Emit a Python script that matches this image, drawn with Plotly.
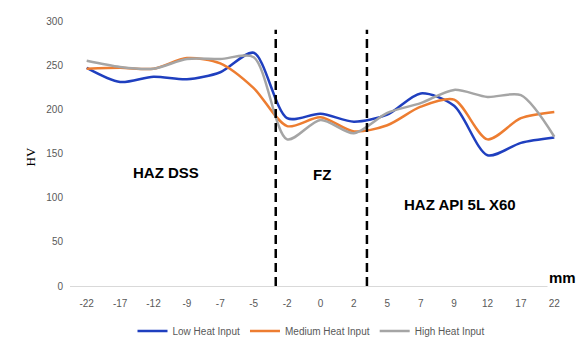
import plotly.graph_objects as go

categories = ["-22", "-17", "-12", "-9", "-7", "-5", "-2", "0", "2", "5", "7", "9", "12", "17", "22"]
low_heat = [247, 231, 237, 234, 242, 264, 190, 195, 186, 194, 218, 204, 148, 162, 168]
medium_heat = [246, 247, 246, 258, 252, 224, 181, 191, 175, 182, 203, 211, 166, 190, 197]
high_heat = [255, 248, 246, 257, 257, 259, 166, 188, 173, 196, 207, 222, 214, 216, 169]
y_ticks = [0, 50, 100, 150, 200, 250, 300]
zone_bounds = [5.66, 8.39]

fig = go.Figure()
for name, vals, col in [
    ("Low Heat Input", low_heat, "#1f3fbf"),
    ("Medium Heat Input", medium_heat, "#ED7D31"),
    ("High Heat Input", high_heat, "#A5A5A5"),
]:
    fig.add_trace(go.Scatter(x=categories, y=vals, name=name, mode="lines",
                             line=dict(color=col, width=2.5, shape="spline", smoothing=0.8)))

for xb in zone_bounds:
    fig.add_shape(type="line", xref="x", yref="y", x0=xb, x1=xb, y0=0, y1=290,
                  line=dict(color="black", width=2.5, dash="9px,5px"))

bold = dict(family="Liberation Sans", size=15, color="black")
fig.add_annotation(x=2.37, y=129, xref="x", yref="y", text="<b>HAZ DSS</b>", showarrow=False, font=bold)
fig.add_annotation(x=7.05, y=126, xref="x", yref="y", text="<b>FZ</b>", showarrow=False, font=bold)
fig.add_annotation(x=11.18, y=92, xref="x", yref="y", text="<b>HAZ API 5L X60</b>", showarrow=False, font=bold)
fig.add_annotation(x=13.78, y=10, xref="x", yref="y", text="<b>mm</b>", showarrow=False, xanchor="left",
                   font=bold, bgcolor="white")
fig.add_annotation(x=-(70 - 20) / 501, y=(286 - 157) / 265, xref="paper", yref="paper", text="HV",
                   showarrow=False, textangle=-90,
                   font=dict(family="Liberation Serif", size=13, color="black"))

fig.update_layout(
    width=582, height=338,
    margin=dict(l=70, r=11, t=21, b=52, autoexpand=False),
    paper_bgcolor="white", plot_bgcolor="white",
    showlegend=True,
    legend=dict(orientation="h", x=311 / 582, xref="container", xanchor="center",
                y=1 - 331 / 338, yref="container", yanchor="middle",
                font=dict(family="Liberation Sans", size=10, color="#595959")),
    font=dict(family="Liberation Sans", size=10, color="#595959"),
)
fig.update_xaxes(type="category", range=[-0.5, 14.5], showgrid=False, showline=True, linecolor="#d9d9d9",
                 ticks="", ticklabelstandoff=8, zeroline=False)
fig.update_yaxes(range=[0, 300], tickvals=y_ticks, showgrid=False, showline=False, zeroline=False,
                 ticklabelstandoff=6)

fig.write_html("out.html")
